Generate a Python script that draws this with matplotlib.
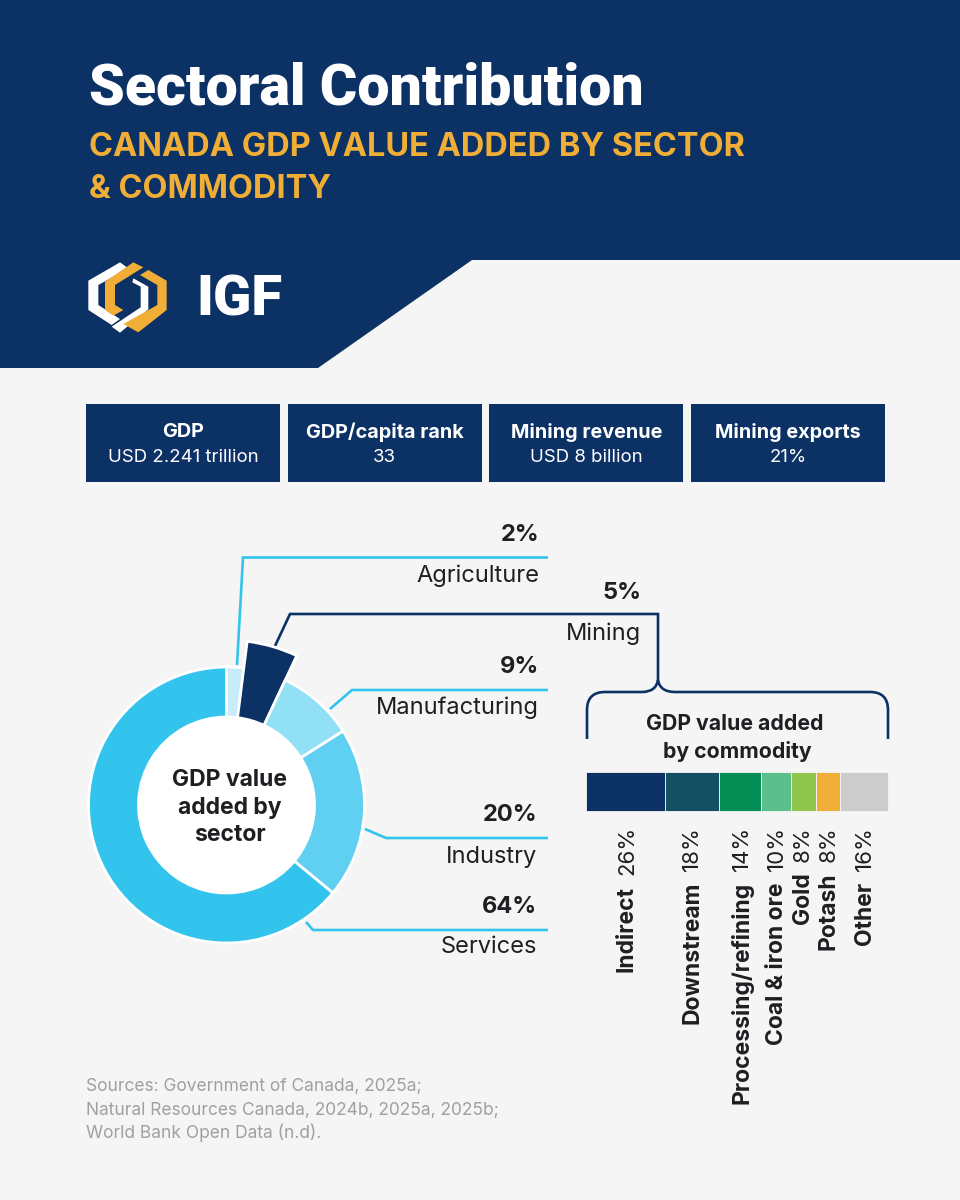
import matplotlib
matplotlib.use("Agg")
import matplotlib.pyplot as plt
from matplotlib.patches import Polygon, Wedge, Circle, Rectangle
from matplotlib.path import Path as MplPath
from matplotlib.patches import PathPatch

NAVY = "#0b3165"
ORANGE = "#f0ae37"
SKY = "#33c4ee"
DARK = "#1f1f23"
BG = "#f5f5f5"
H = 1200

# header boxes
kpi_titles = ["GDP", "GDP/capita rank", "Mining revenue", "Mining exports"]
kpi_values = ["USD 2.241 trillion", "33", "USD 8 billion", "21%"]

# donut
sectors = ["Agriculture", "Mining", "Manufacturing", "Industry", "Services"]
sector_pct = [2, 5, 9, 20, 64]
sector_colors = ["#c5ecf8", NAVY, "#92e0f5", "#5fd0f1", SKY]

# commodity bar
commodities = ["Indirect", "Downstream", "Processing/refining", "Coal & iron ore", "Gold", "Potash", "Other"]
commodity_pct = [26, 18, 14, 10, 8, 8, 16]
commodity_colors = [NAVY, "#155162", "#048e56", "#5bbf8d", "#90c64b", ORANGE, "#cccccc"]
commodity_x = [627, 692, 742, 777, 803, 829, 865]

sources = [
    "Sources: Government of Canada, 2025a;",
    "Natural Resources Canada, 2024b, 2025a, 2025b;",
    "World Bank Open Data (n.d).",
]

plt.rcParams["font.family"] = ["Inter", "DejaVu Sans"]

fig = plt.figure(figsize=(9.6, 12), dpi=100, facecolor=BG)
ax = fig.add_axes([0, 0, 1, 1])
ax.set_xlim(0, 960)
ax.set_ylim(H, 0)  # pixel coords, y down like the picture
ax.axis("off")


def txt(x, y, s, size, weight="normal", color=DARK, ha="left", va="center", **kw):
    return ax.text(x, y, s, fontsize=size, fontweight=weight, color=color, ha=ha, va=va, **kw)


def poly(points, color, z=2):
    ax.add_patch(Polygon(points, closed=True, facecolor=color, edgecolor="none", zorder=z))


def line(points, color=SKY, lw=1.9):
    xs, ys = zip(*points)
    ax.plot(xs, ys, color=color, lw=lw, solid_joinstyle="miter", solid_capstyle="butt", zorder=1)


def logo(points, color, z=2):
    poly([(70 + px / 3, 250 + py / 3) for px, py in points], color, z)


# banner
poly([(0, 0), (960, 0), (960, 260), (472, 260), (318, 368), (0, 368)], NAVY, z=0)
txt(89, 89, "Sectoral Contribution", 41.2, "black", "white", family=["Roboto", "DejaVu Sans"])
txt(89, 147, "CANADA GDP VALUE ADDED BY SECTOR", 23.4, "bold", ORANGE)
txt(89, 189, "& COMMODITY", 23.4, "bold", ORANGE)

# logo
logo([(150, 37), (55, 92), (55, 180), (125, 225), (150, 207), (85, 165), (85, 105), (175, 55)], "white")
logo([(190, 37), (220, 52), (135, 105), (135, 165), (160, 180), (130, 197), (105, 180), (105, 95)], ORANGE, 3)
logo([(190, 85), (235, 110), (235, 178), (150, 248), (125, 230), (212, 172), (212, 110), (187, 97)], "white", 3)
logo([(235, 60), (290, 92), (290, 180), (205, 247), (160, 222), (262, 165), (262, 105), (210, 75)], ORANGE, 4)
txt(196, 300, "IGF", 40.5, "black", "white", family=["Roboto", "DejaVu Sans"])

# KPI boxes
for i, (title, value) in enumerate(zip(kpi_titles, kpi_values)):
    x0 = 86 + i * 201.7
    ax.add_patch(Rectangle((x0, 404), 194, 78, facecolor=NAVY, edgecolor="none", zorder=2))
    txt(x0 + 97, 432, title, 14.3, "bold", "white", ha="center", zorder=3)
    txt(x0 + 97, 457, value, 13.4, "normal", "white", ha="center", zorder=3)

# donut
cx, cy = 226.5, 805
r_out, r_in = 138, 88
# y axis is inverted, so positive matplotlib angles already run clockwise on screen
start = -90.0
for name, pct, col in zip(sectors, sector_pct, sector_colors):
    sweep = pct * 3.6
    r = 165 if name == "Mining" else r_out
    ax.add_patch(Wedge((cx, cy), r, start, start + sweep, width=r - r_in,
                       facecolor=col, edgecolor="white", lw=2, zorder=3))
    start += sweep
ax.add_patch(Circle((cx, cy), r_in, facecolor="white", edgecolor="none", zorder=4))
for y, s in zip([780, 808, 835], ["GDP value", "added by", "sector"]):
    txt(cx + 3.5, y, s, 16.5, "bold", ha="center", zorder=5)

# callouts
line([(237, 665), (243, 557.5), (548, 557.5)])
line([(330, 709), (352, 690), (548, 690)])
line([(365, 829), (386, 838), (548, 838)])
line([(306, 922), (313, 930), (548, 930)])
line([(275, 646), (290, 614), (658, 614), (658, 680)], NAVY)

M, L, C = MplPath.MOVETO, MplPath.LINETO, MplPath.CURVE3
brace = MplPath(
    [(587, 739), (587, 710), (587, 692), (605, 692), (642, 692), (656, 692), (658, 680),
     (660, 692), (675, 692), (870, 692), (888, 692), (888, 710), (888, 739)],
    [M, L, C, C, L, C, C, C, C, L, C, C, L],
)
ax.add_patch(PathPatch(brace, facecolor="none", edgecolor=NAVY, lw=1.9, zorder=1))

label_rows = [(535, 576, 539), (593, 634, 641), (667, 708, 539), (815, 857, 537), (907, 947, 537)]
for (y_pct, y_name, x_r), name, pct in zip(label_rows, sectors, sector_pct):
    txt(x_r, y_pct, f"{pct}%", 17, "bold", ha="right")
    txt(x_r, y_name, name, 17, "normal", ha="right")

# commodity bar
txt(735, 724, "GDP value added", 15.3, "bold", ha="center")
txt(737, 751, "by commodity", 15.3, "bold", ha="center")
left = 586.0
for pct, col in zip(commodity_pct, commodity_colors):
    w = pct * 3.02
    ax.barh(791.5, w, left=left, height=39, color=col, edgecolor=BG, lw=0.6, zorder=2)
    left += w

fig.canvas.draw()
renderer = fig.canvas.get_renderer()
for name, pct, x in zip(commodities, commodity_pct, commodity_x):
    t = txt(x, 826, f"{pct}%", 16, "normal", ha="center", va="top", rotation=90)
    bottom = 1200 - t.get_window_extent(renderer).y0
    txt(x, bottom + 11, name, 16.5, "bold", ha="center", va="top", rotation=90)

# sources
for y, s in zip([1087, 1111, 1133], sources):
    txt(86, y, s, 12.5, "normal", "#a0a0a0")

fig.savefig("out.png", dpi=100, facecolor=BG)
